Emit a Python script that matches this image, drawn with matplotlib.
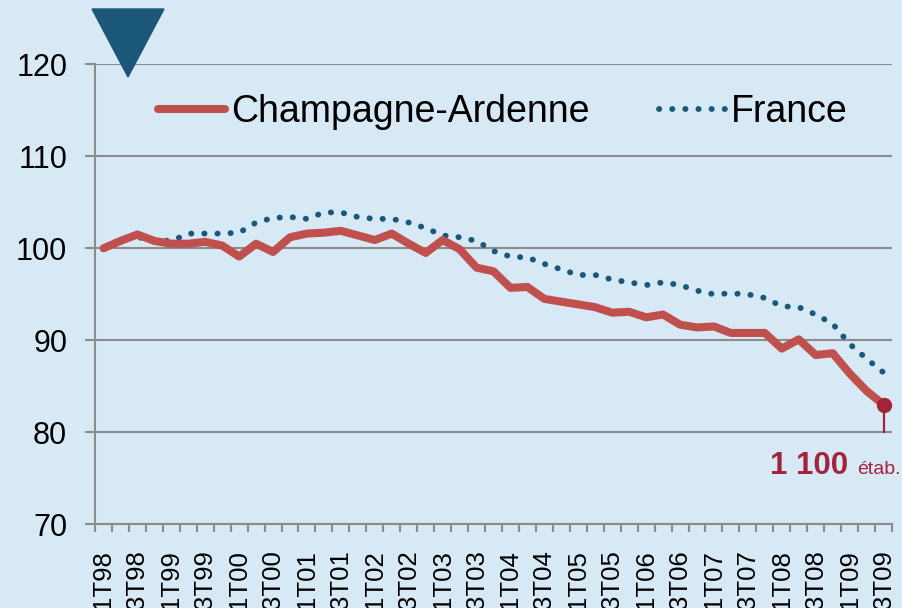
import matplotlib.pyplot as plt
from matplotlib.lines import Line2D
from matplotlib.patches import Polygon

plt.rcParams['font.family'] = ['Liberation Sans', 'DejaVu Sans']

# quarterly index, base 100 = 1T98
tick_labels = ['1T98', '3T98', '1T99', '3T99', '1T00', '3T00', '1T01', '3T01',
               '1T02', '3T02', '1T03', '3T03', '1T04', '3T04', '1T05', '3T05',
               '1T06', '3T06', '1T07', '3T07', '1T08', '3T08', '1T09', '3T09']

champagne = [100.0, 100.8, 101.5, 100.8, 100.5, 100.5, 100.7, 100.3, 99.1, 100.5,
             99.6, 101.2, 101.6, 101.7, 101.9, 101.4, 100.9, 101.6, 100.5, 99.5,
             100.9, 99.9, 97.9, 97.5, 95.7, 95.8, 94.5, 94.2, 93.9, 93.6,
             93.0, 93.1, 92.5, 92.8, 91.7, 91.4, 91.5, 90.8, 90.8, 90.8,
             89.1, 90.1, 88.4, 88.6, 86.4, 84.5, 83.0]

france = [100.0, 101.0, 101.2, 100.9, 100.8, 101.6, 101.6, 101.6, 101.7, 102.8,
          103.3, 103.4, 103.2, 103.9, 103.9, 103.4, 103.2, 103.2, 102.8, 102.2,
          101.4, 101.2, 100.8, 99.7, 99.1, 99.0, 98.3, 97.7, 97.1, 97.1,
          96.6, 96.3, 96.0, 96.3, 96.0, 95.4, 95.0, 95.1, 95.0, 94.6,
          93.7, 93.6, 92.8, 91.8, 89.6, 88.0, 86.5]

bg = '#D7E9F5'
red = '#C0504D'
dark_red = '#A3243A'
blue = '#1B5778'
grey = '#8C8C8C'
dots = (0, (0.05, 2.2))

fig = plt.figure(figsize=(9.03, 6.08), dpi=100, facecolor=bg)
ax = fig.add_axes([95 / 903, 1 - 524.3 / 608, 797 / 903, 460 / 608])
ax.set_facecolor(bg)

x = list(range(len(champagne)))
ax.plot(x, france, color=blue, lw=4.2, linestyle=dots,
        dash_capstyle='round', zorder=3)
ax.plot(x, champagne, color=red, lw=5.8, solid_capstyle='round',
        solid_joinstyle='round', zorder=4)

# last point marker
ax.plot([x[-1], x[-1]], [80, champagne[-1]], color=dark_red, lw=1.6, zorder=5)
ax.plot(x[-1], champagne[-1], 'o', color=dark_red, ms=10, zorder=6, clip_on=False)

ax.set_xlim(-0.5, len(x) - 0.5)
ax.set_ylim(70, 120)
ax.set_yticks(range(70, 121, 10))
ax.set_xticks(range(0, len(x), 2))
ax.set_xticklabels(tick_labels, rotation=90)
ax.set_xticks([i - 0.5 for i in range(len(x) + 1)], minor=True)

ax.tick_params(axis='x', which='major', length=0, pad=18.5, labelsize=18.5)
ax.tick_params(axis='x', which='minor', length=6, width=1.5, color=grey)
ax.tick_params(axis='y', length=7, width=1.5, color=grey, pad=13, labelsize=22)

ax.yaxis.grid(True, color=grey, lw=1.5)
ax.set_axisbelow(True)
for s in ['top', 'right']:
    ax.spines[s].set_visible(False)
for s in ['left', 'bottom']:
    ax.spines[s].set_color(grey)
    ax.spines[s].set_linewidth(1.5)

handles = [Line2D([], [], color=red, lw=5.8, solid_capstyle='round'),
           Line2D([], [], color=blue, lw=4.2, linestyle=dots,
                  dash_capstyle='round')]
ax.legend(handles, ['Champagne-Ardenne', 'France'], loc='center left',
          bbox_to_anchor=(158 / 903, 1 - 112 / 608), bbox_transform=fig.transFigure,
          ncol=2, frameon=False, fontsize=27, handlelength=1.78, handletextpad=0.16,
          columnspacing=1.85, borderpad=0, borderaxespad=0)

# decorative triangle
fig.add_artist(Polygon([(92 / 903, 1 - 9 / 608), (164 / 903, 1 - 9 / 608),
                        (128 / 903, 1 - 77 / 608)], closed=True,
                       transform=fig.transFigure, color=blue))

fig.text(848 / 903, 1 - 474 / 608, '1 100', color=dark_red, fontsize=22.5,
         fontweight='bold', ha='right', va='baseline')
fig.text(857 / 903, 1 - 474 / 608, 'étab.', color=dark_red, fontsize=14,
         ha='left', va='baseline')

fig.savefig('out.png', dpi=100, facecolor=bg)
